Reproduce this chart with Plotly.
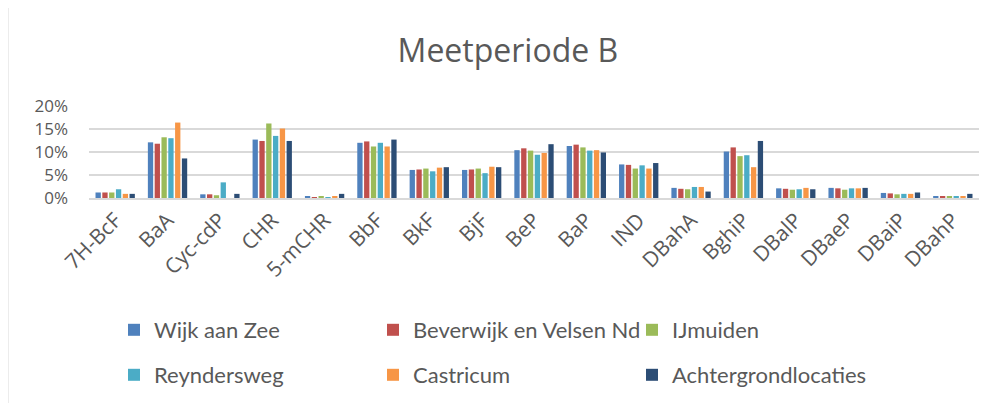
import plotly.graph_objects as go

# PAK-componenten (x-as)
componenten = ["7H-BcF", "BaA", "Cyc-cdP", "CHR", "5-mCHR", "BbF", "BkF", "BjF",
               "BeP", "BaP", "IND", "DBahA", "BghiP", "DBalP", "DBaeP", "DBaiP", "DBahP"]

# aandeel per locatie, in %
wijk_aan_zee = [1.2, 12.1, 0.8, 12.7, 0.4, 12.0, 6.1, 6.1, 10.4, 11.3, 7.3, 2.2, 10.1, 2.1, 2.2, 1.1, 0.4]
beverwijk = [1.2, 11.8, 0.8, 12.4, 0.2, 12.3, 6.2, 6.2, 10.8, 11.6, 7.2, 2.0, 11.0, 2.0, 2.1, 1.0, 0.4]
ijmuiden = [1.2, 13.2, 0.6, 16.2, 0.4, 11.2, 6.4, 6.4, 10.3, 11.0, 6.4, 1.9, 9.1, 1.8, 1.8, 0.8, 0.4]
reyndersweg = [1.9, 13.0, 3.4, 13.5, 0.2, 12.0, 5.8, 5.4, 9.4, 10.3, 7.1, 2.4, 9.3, 1.9, 2.1, 0.9, 0.4]
castricum = [0.9, 16.4, 0.0, 15.1, 0.4, 11.2, 6.6, 6.8, 9.8, 10.4, 6.4, 2.4, 6.7, 2.2, 2.1, 0.9, 0.3]
achtergrond = [0.9, 8.6, 0.9, 12.4, 0.9, 12.7, 6.7, 6.7, 11.7, 9.9, 7.6, 1.4, 12.4, 1.9, 2.2, 1.2, 0.9]

reeksen = [
    ("Wijk aan Zee", wijk_aan_zee, "#4F81BD", "legend"),
    ("Beverwijk en Velsen Nd", beverwijk, "#C0504D", "legend"),
    ("IJmuiden", ijmuiden, "#9BBB59", "legend"),
    ("Reyndersweg", reyndersweg, "#4BACC6", "legend2"),
    ("Castricum", castricum, "#F79646", "legend2"),
    ("Achtergrondlocaties", achtergrond, "#2C4D75", "legend2"),
]

fig = go.Figure()
for naam, waarden, kleur, leg in reeksen:
    fig.add_trace(go.Bar(
        x=componenten,
        y=waarden,
        name=naam,
        marker=dict(color=kleur, line=dict(width=0)),
        legend=leg,
    ))

tekst = "#595959"
legfont = dict(family="Lato", size=22, color=tekst)

# pagina heeft 8px body-marge, dus figuur iets kleiner
W, H = 986, 395

fig.update_layout(
    width=W, height=H,
    margin=dict(l=81, r=15, t=98, b=205),
    paper_bgcolor="white", plot_bgcolor="white",
    barmode="group", bargap=0.22, bargroupgap=0.22,
    title=dict(text="Meetperiode B", x=0.507, xanchor="center", y=0.891, yanchor="middle",
               font=dict(family="Open Sans", size=32, color=tekst)),
    legend=dict(orientation="h", xref="container", yref="container", x=106 / W, y=1 - 322 / H,
                xanchor="left", yanchor="middle", entrywidth=214, font=legfont,
                bgcolor="rgba(0,0,0,0)"),
    legend2=dict(orientation="h", xref="container", yref="container", x=106 / W, y=1 - 367 / H,
                 xanchor="left", yanchor="middle", entrywidth=214, font=legfont,
                 bgcolor="rgba(0,0,0,0)"),
    font=dict(family="Open Sans", color=tekst),
)
fig.update_xaxes(tickangle=-45, tickfont=dict(family="Open Sans", size=21, color=tekst),
                 showline=True, linecolor="#D9D9D9", linewidth=1.5, ticks="")
fig.update_yaxes(range=[0, 20], dtick=5, ticksuffix="%", showgrid=True, gridcolor="#D9D9D9",
                 gridwidth=1.5, zeroline=False, ticklabelstandoff=20,
                 tickfont=dict(family="Open Sans", size=17, color=tekst))

fig.add_shape(type="line", xref="paper", yref="paper", x0=-0.091, x1=-0.091, y0=-3, y1=3,
              line=dict(color="#D9D9D9", width=1))

fig.write_html("out.html")
